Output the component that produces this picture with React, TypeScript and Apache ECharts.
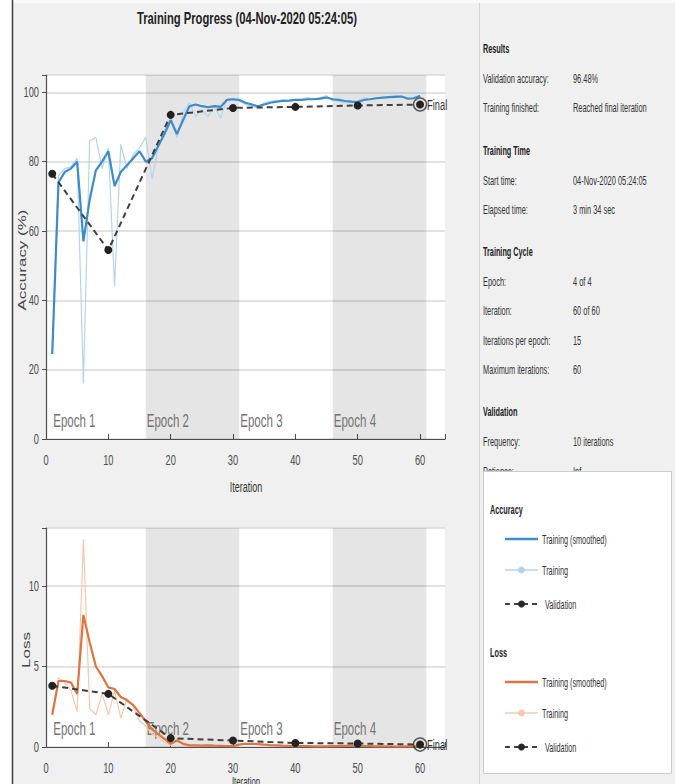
import React, { useEffect, useRef } from 'react';
import * as echarts from 'echarts';

// ---------- data ----------
const epochStart = [1, 16, 31, 46];
const epochEnd = [16, 31, 46, 61];
const epochNames = ['Epoch 1', 'Epoch 2', 'Epoch 3', 'Epoch 4'];

const accTraining = [
  24.5, 76, 78, 78.5, 81, 16, 86, 87, 78, 84,
  44, 85, 78, 82, 84, 87, 75, 84, 89, 92,
  87, 94, 97, 93, 95, 93, 96, 92.5, 98, 98,
  97.5, 96.5, 96, 95.5, 97, 97.5, 97.5, 98, 97.5, 98,
  98, 98.5, 98, 98.5, 99, 97.5, 97.5, 97, 97, 97.5,
  98.5, 98, 98.5, 98.5, 98.5, 99, 99, 98, 98.5, 99,
];
const accSmoothed = [
  24.5, 74, 77, 78, 80, 57, 69, 77.5, 80, 83,
  73, 77, 79, 81, 83, 80, 81, 84.5, 88, 92,
  88, 92, 96, 96.5, 96, 95.7, 96, 95.8, 97.8, 98,
  97.8, 97, 96.5, 96, 96.5, 97, 97.3, 97.5, 97.6, 97.8,
  97.8, 98, 98, 98.2, 98.5, 98, 97.8, 97.5, 97.3, 97.2,
  97.8, 98, 98.3, 98.5, 98.6, 98.7, 98.8, 98.2, 98.3, 99,
];
const valIters = [1, 10, 20, 30, 40, 50, 60];
const accValidation = [76.5, 54.5, 93.5, 95.5, 95.8, 96.2, 96.48];

const lossTraining = [
  2.0, 4.3, 4.0, 3.5, 2.2, 12.9, 2.4, 2.0, 3.3, 2.0,
  3.5, 1.8, 3.0, 2.5, 1.6, 1.3, 0.8, 0.6, 0.3, 0.1,
  0.5, 0.1, 0.05, 0.08, 0.05, 0.1, 0.06, 0.05, 0.04, 0.05,
  0.2, 0.25, 0.2, 0.15, 0.12, 0.1, 0.08, 0.06, 0.05, 0.05,
  0.04, 0.04, 0.03, 0.04, 0.05, 0.06, 0.08, 0.09, 0.07, 0.05,
  0.04, 0.03, 0.03, 0.04, 0.03, 0.03, 0.02, 0.03, 0.03, 0.02,
];
const lossSmoothed = [
  2.0, 4.1, 4.1, 4.0, 3.3, 8.2, 6.5, 5.0, 4.4, 3.7,
  3.6, 3.1, 2.9, 2.6, 2.1, 1.6, 1.1, 0.8, 0.5, 0.2,
  0.4, 0.2, 0.1, 0.1, 0.08, 0.1, 0.08, 0.07, 0.06, 0.06,
  0.15, 0.2, 0.2, 0.18, 0.15, 0.12, 0.1, 0.08, 0.07, 0.06,
  0.05, 0.05, 0.04, 0.04, 0.04, 0.05, 0.06, 0.07, 0.08, 0.07,
  0.06, 0.05, 0.04, 0.04, 0.04, 0.03, 0.03, 0.04, 0.04, 0.03,
];
const lossValidation = [3.8, 3.3, 0.55, 0.4, 0.25, 0.22, 0.15];

const accTickValues = [0, 20, 40, 60, 80, 100];
const lossTickValues = [0, 5, 10];
const iterTickValues = [0, 10, 20, 30, 40, 50, 60];

const titleText = 'Training Progress (04-Nov-2020 05:24:05)';

const infoSections: { title: string; rows: [string, string][] }[] = [
  { title: 'Results', rows: [['Validation accuracy:', '96.48%'], ['Training finished:', 'Reached final iteration']] },
  { title: 'Training Time', rows: [['Start time:', '04-Nov-2020 05:24:05'], ['Elapsed time:', '3 min 34 sec']] },
  {
    title: 'Training Cycle',
    rows: [['Epoch:', '4 of 4'], ['Iteration:', '60 of 60'], ['Iterations per epoch:', '15'], ['Maximum iterations:', '60']],
  },
  { title: 'Validation', rows: [['Frequency:', '10 iterations'], ['Patience:', 'Inf']] },
];

const legendGroups = [
  { title: 'Accuracy', items: ['Training (smoothed)', 'Training', 'Validation'] },
  { title: 'Loss', items: ['Training (smoothed)', 'Training', 'Validation'] },
];

// ---------- styles ----------
const FONT = "'Liberation Sans', Arial, sans-serif";
const BLUE = '#3a8cce';
const BLUE_LIGHT = '#b3d4ee';
const ORANGE = '#df7440';
const ORANGE_LIGHT = '#f5c8ae';
const VAL = '#3f3f3f';
const AXIS = '#4d4d4d';

const ACC_MAX = 105;
const LOSS_MAX = 13.6;
const X_MAX = 64;

function txt(x: number, y: number, text: string, opts: any = {}) {
  return {
    type: 'text',
    x,
    y,
    z: opts.z ?? 10,
    rotation: opts.rotation ?? 0,
    scaleX: opts.scaleX ?? 0.62,
    scaleY: opts.scaleY ?? 1,
    style: {
      text,
      fontSize: opts.size ?? 12,
      fontWeight: opts.bold ? 'bold' : 'normal',
      fontFamily: FONT,
      fill: opts.color ?? '#333',
      align: opts.align ?? 'left',
      verticalAlign: 'middle',
    },
  };
}

function epochSeries(xi: number, yi: number, yMax: number) {
  return {
    type: 'custom',
    xAxisIndex: xi,
    yAxisIndex: yi,
    silent: true,
    z: 1,
    data: epochStart.map((s, i) => [s, epochEnd[i], i]),
    encode: { x: [0, 1], y: 2 },
    renderItem: (params: any, api: any) => {
      const s = api.value(0);
      const e = api.value(1);
      const i = api.value(2);
      const tl = api.coord([s, yMax]);
      const br = api.coord([e, 0]);
      const children: any[] = [];
      if (i % 2 === 1) {
        children.push({
          type: 'rect',
          shape: { x: tl[0], y: tl[1], width: br[0] - tl[0], height: br[1] - tl[1] },
          style: { fill: 'rgba(0,0,0,0.1)' },
        });
      }
      children.push({
        type: 'text',
        x: tl[0] + 1,
        y: br[1] - 10,
        scaleX: 0.64,
        style: {
          text: epochNames[i],
          fontSize: 18,
          fontFamily: FONT,
          fill: '#737373',
          verticalAlign: 'bottom',
        },
      });
      return { type: 'group', children };
    },
  };
}

// tick labels drawn through the axis scales, condensed like the reference
function yLabelSeries(xi: number, yi: number, ticks: number[]) {
  return {
    type: 'custom',
    xAxisIndex: xi,
    yAxisIndex: yi,
    silent: true,
    clip: false,
    z: 6,
    data: ticks.map((v) => [0, v]),
    encode: { x: 0, y: 1 },
    renderItem: (params: any, api: any) => {
      const v = api.value(1);
      const p = api.coord([0, v]);
      return {
        type: 'text',
        x: p[0] - 7,
        y: p[1],
        scaleX: 0.62,
        style: { text: String(v), fontSize: 15, fontFamily: FONT, fill: AXIS, align: 'right', verticalAlign: 'middle' },
      };
    },
  };
}

function xLabelSeries(xi: number, yi: number, ticks: number[]) {
  return {
    type: 'custom',
    xAxisIndex: xi,
    yAxisIndex: yi,
    silent: true,
    clip: false,
    z: 6,
    data: ticks.map((v) => [v, 0]),
    encode: { x: 0, y: 1 },
    renderItem: (params: any, api: any) => {
      const v = api.value(0);
      const p = api.coord([v, 0]);
      return {
        type: 'text',
        x: p[0],
        y: p[1] + 21,
        scaleX: 0.62,
        style: { text: String(v), fontSize: 15, fontFamily: FONT, fill: AXIS, align: 'center', verticalAlign: 'middle' },
      };
    },
  };
}

function xAxis(gridIndex: number) {
  return {
    type: 'value',
    gridIndex,
    min: 0,
    max: X_MAX,
    interval: 10,
    axisLine: { show: true, onZero: false, lineStyle: { color: AXIS, width: 1.2 } },
    axisTick: { show: true, inside: true, length: 5, lineStyle: { color: AXIS } },
    axisLabel: { show: false },
    splitLine: { show: false },
  };
}

function yAxis(gridIndex: number, max: number, interval: number) {
  return {
    type: 'value',
    gridIndex,
    min: 0,
    max,
    interval,
    axisLine: { show: true, lineStyle: { color: AXIS, width: 1.2 } },
    axisTick: { show: true, inside: false, length: 4, lineStyle: { color: AXIS } },
    axisLabel: { show: false },
    splitLine: { show: true, lineStyle: { color: '#d8d8d8', width: 1.5 } },
  };
}

function lineSeries(xi: number, yi: number, values: number[], color: string, width: number, z: number) {
  return {
    type: 'line',
    xAxisIndex: xi,
    yAxisIndex: yi,
    data: values.map((v, i) => [i + 1, v]),
    symbol: 'none',
    lineStyle: { color, width },
    z,
    silent: true,
  };
}

function valSeries(xi: number, yi: number, values: number[]) {
  return {
    type: 'line',
    xAxisIndex: xi,
    yAxisIndex: yi,
    data: values.map((v, i) => [valIters[i], v]),
    symbol: 'circle',
    symbolSize: 8,
    itemStyle: { color: '#222222' },
    lineStyle: { color: VAL, width: 2, type: [6, 4] },
    z: 4,
    silent: true,
  };
}

function finalSeries(xi: number, yi: number, values: number[]) {
  const last = values.length - 1;
  return {
    type: 'scatter',
    xAxisIndex: xi,
    yAxisIndex: yi,
    data: [[valIters[last], values[last]]],
    symbol: 'circle',
    symbolSize: 13,
    itemStyle: { color: 'rgba(0,0,0,0)', borderColor: '#333', borderWidth: 1.5 },
    z: 5,
    silent: true,
  };
}

function finalLabelSeries(xi: number, yi: number, values: number[]) {
  const last = values.length - 1;
  return {
    type: 'custom',
    xAxisIndex: xi,
    yAxisIndex: yi,
    silent: true,
    clip: false,
    z: 6,
    data: [[valIters[last], values[last]]],
    encode: { x: 0, y: 1 },
    renderItem: (params: any, api: any) => {
      const p = api.coord([api.value(0), api.value(1)]);
      return {
        type: 'text',
        x: p[0] + 7,
        y: p[1] + 1,
        scaleX: 0.62,
        style: { text: 'Final', fontSize: 15, fontFamily: FONT, fill: '#333', align: 'left', verticalAlign: 'middle' },
      };
    },
  };
}

function buildGraphic() {
  const g: any[] = [];
  g.push({ type: 'rect', z: 0, shape: { x: 0, y: 0, width: 12, height: 784 }, style: { fill: '#ffffff' } });
  g.push({ type: 'line', z: 1, shape: { x1: 12.5, y1: 0, x2: 12.5, y2: 784 }, style: { stroke: '#3c3c3c', lineWidth: 1.5 } });
  g.push({ type: 'rect', z: 0, shape: { x: 13, y: 0, width: 662, height: 3 }, style: { fill: '#fafafa' } });
  g.push({ type: 'line', z: 1, shape: { x1: 479.5, y1: 3, x2: 479.5, y2: 784 }, style: { stroke: '#d2d2d2', lineWidth: 1 } });

  g.push(txt(247, 18, titleText, { size: 17, bold: true, align: 'center', scaleX: 0.66, color: '#222' }));
  g.push(txt(246, 487, 'Iteration', { size: 15, align: 'center', scaleX: 0.6 }));
  g.push(txt(246, 781, 'Iteration', { size: 13, align: 'center', scaleX: 0.6 }));
  g.push(txt(22, 260, 'Accuracy (%)', { size: 17, align: 'center', scaleX: 1, scaleY: 0.62, rotation: Math.PI / 2, color: '#444' }));
  g.push(txt(26, 650, 'Loss', { size: 17, align: 'center', scaleX: 1, scaleY: 0.62, rotation: Math.PI / 2, color: '#444' }));

  // info panel
  let y = 48;
  infoSections.forEach((sec) => {
    g.push(txt(483, y, sec.title, { size: 13, bold: true, scaleX: 0.56, color: '#222' }));
    y += 30;
    sec.rows.forEach(([k, v]) => {
      g.push(txt(483, y, k, { size: 13, scaleX: 0.57 }));
      g.push(txt(573, y, v, { size: 13, scaleX: 0.57 }));
      y += 29.3;
    });
    y += 13;
  });

  // legend box
  g.push({
    type: 'rect',
    z: 20,
    shape: { x: 483.5, y: 471.5, width: 188, height: 302 },
    style: { fill: '#ffffff', stroke: '#cccccc', lineWidth: 1 },
  });
  const colors = [
    [BLUE, BLUE_LIGHT],
    [ORANGE, ORANGE_LIGHT],
  ];
  const groupTop = [509, 652];
  legendGroups.forEach((grp, gi) => {
    const gy = groupTop[gi];
    g.push(txt(490, gy, grp.title, { size: 13, bold: true, scaleX: 0.56, color: '#222', z: 21 }));
    const rowsY = [gy + 30, gy + 61, gy + 95];
    grp.items.forEach((item, ii) => {
      const ry = rowsY[ii];
      if (ii === 0) {
        g.push({ type: 'line', z: 21, shape: { x1: 505, y1: ry, x2: 538, y2: ry }, style: { stroke: colors[gi][0], lineWidth: 2.5 } });
      } else if (ii === 1) {
        g.push({ type: 'line', z: 21, shape: { x1: 505, y1: ry, x2: 538, y2: ry }, style: { stroke: colors[gi][1], lineWidth: 1.5 } });
        g.push({ type: 'circle', z: 22, shape: { cx: 521.5, cy: ry, r: 3 }, style: { fill: colors[gi][1], stroke: colors[gi][1] } });
      } else {
        g.push({ type: 'line', z: 21, shape: { x1: 505, y1: ry, x2: 540, y2: ry }, style: { stroke: VAL, lineWidth: 2, lineDash: [5, 4] } });
        g.push({ type: 'circle', z: 22, shape: { cx: 521.5, cy: ry, r: 3.5 }, style: { fill: '#262626' } });
      }
      g.push(txt(ii === 2 ? 545 : 542, ry, item, { size: 13, scaleX: 0.56, z: 21 }));
    });
  });
  return g;
}

export default function App() {
  const ref = useRef<HTMLDivElement>(null);
  useEffect(() => {
    if (!ref.current) return;
    const chart = echarts.init(ref.current, undefined, { renderer: 'svg' });
    chart.setOption({
      animation: false,
      backgroundColor: '#f0f0f0',
      grid: [
        { left: 46, top: 75, width: 399, height: 364, show: true, backgroundColor: '#ffffff', borderWidth: 0 },
        { left: 46, top: 528, width: 399, height: 219, show: true, backgroundColor: '#ffffff', borderWidth: 0 },
      ],
      xAxis: [xAxis(0), xAxis(1)],
      yAxis: [yAxis(0, ACC_MAX, 20), yAxis(1, LOSS_MAX, 5)],
      series: [
        epochSeries(0, 0, ACC_MAX),
        lineSeries(0, 0, accTraining, BLUE_LIGHT, 1.2, 2),
        lineSeries(0, 0, accSmoothed, BLUE, 2.2, 3),
        valSeries(0, 0, accValidation),
        finalSeries(0, 0, accValidation),
        finalLabelSeries(0, 0, accValidation),
        yLabelSeries(0, 0, accTickValues),
        xLabelSeries(0, 0, iterTickValues),
        epochSeries(1, 1, LOSS_MAX),
        lineSeries(1, 1, lossTraining, ORANGE_LIGHT, 1.2, 2),
        lineSeries(1, 1, lossSmoothed, ORANGE, 2.2, 3),
        valSeries(1, 1, lossValidation),
        finalSeries(1, 1, lossValidation),
        finalLabelSeries(1, 1, lossValidation),
        yLabelSeries(1, 1, lossTickValues),
        xLabelSeries(1, 1, iterTickValues),
      ],
      graphic: buildGraphic(),
    });
    return () => chart.dispose();
  }, []);
  return <div ref={ref} style={{ position: 'fixed', left: 0, top: 0, width: 675, height: 784 }} />;
}
